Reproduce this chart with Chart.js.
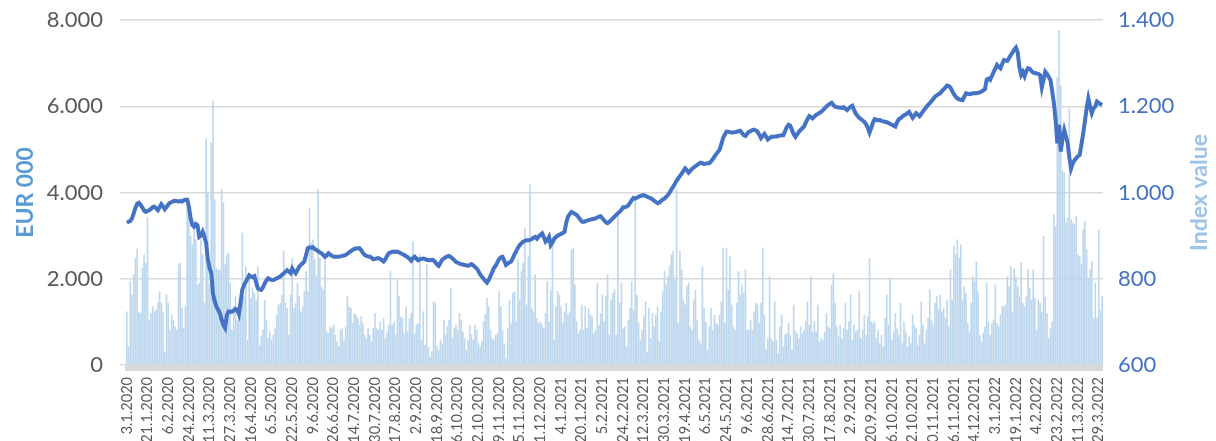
<!DOCTYPE html>
<html>
<head>
<meta charset="utf-8">
<script src="https://cdn.jsdelivr.net/npm/chart.js@4.4.1/dist/chart.umd.min.js"></script>
<style>
html,body{margin:0;padding:0;background:#fff;overflow:hidden;}
#wrap{width:1216px;height:441px;position:relative;}
</style>
</head>
<body>
<div id="wrap"><canvas id="c"></canvas></div>
<script>
// Tick labels: every 12th trading day
const tickLabels = ['3.1.2020','21.1.2020','6.2.2020','24.2.2020','11.3.2020','27.3.2020','16.4.2020','6.5.2020','22.5.2020','9.6.2020','26.6.2020','14.7.2020','30.7.2020','17.8.2020','2.9.2020','18.9.2020','6.10.2020','22.10.2020','9.11.2020','25.11.2020','11.12.2020','4.1.2021','20.1.2021','5.2.2021','24.2.2021','12.3.2021','30.3.2021','19.4.2021','6.5.2021','24.5.2021','9.6.2021','28.6.2021','14.7.2021','30.7.2021','17.8.2021','2.9.2021','20.9.2021','6.10.2021','22.10.2021','10.11.2021','26.11.2021','14.12.2021','3.1.2022','19.1.2022','4.2.2022','23.2.2022','11.3.2022','29.3.2022'];

// Daily turnover, EUR 000 (left axis)
const turnover = [
1243,427,1942,1631,2097,2485,2695,1243,1204,2252,2563,2369,3417,1049,1204,1359,1243,1282,1452,1709,
1437,1243,311,1631,1437,816,1165,1049,893,816,2330,2369,1320,854,1359,3884,3845,2990,2796,3223,
2913,1864,1903,2913,2563,1437,5243,4000,1864,5165,6136,3845,2252,2214,2214,4078,3767,2330,2563,2602,
1903,816,1359,1592,1049,1204,1437,3068,1592,2291,
583,2058,1553,1786,1670,1515,2291,466,660,816,1515,1049,621,777,583,699,854,1165,1398,1437,
1631,2641,1437,1320,699,1631,2485,1320,1437,1903,1592,1243,1359,1709,2175,1709,3650,2835,2913,2447,
2058,4078,2485,1825,1748,2485,777,738,893,854,932,699,544,427,816,854,583,893,1592,1359,
1320,971,1204,1165,1087,932,1126,971,699,621,854,699,544,854,
1204,854,816,1010,816,1087,621,777,932,2175,932,1010,699,2019,1592,1126,1087,738,1359,777,
1087,1204,2874,738,932,971,2563,583,1243,466,2330,427,194,311,1476,1437,427,350,583,505,
1049,699,893,1049,1786,621,854,932,816,1204,1049,777,621,350,583,932,699,583,932,816,
505,427,544,1010,1165,1553,1359,816,621,583,699,738,1709,
1359,816,505,155,854,1515,971,1670,1709,1010,2447,1515,2175,2369,3184,1398,2524,4194,1320,1243,
2097,1087,971,1010,932,854,1204,1942,1010,1748,2990,583,1359,1709,1631,1359,971,1243,1437,1165,
1243,2680,2718,1864,1010,738,816,1398,816,1359,854,1320,
1165,1126,738,816,1903,932,1204,1631,1010,1592,2097,699,1515,1670,1748,699,3573,1437,1903,854,
893,427,1049,1320,1942,1282,3845,1631,971,583,816,1126,1476,311,1320,621,1204,893,1165,1359,
544,1243,1709,2175,1864,2058,2291,2563,2641,1981,4078,971,2641,2214,1515,1398,1825,1903,893,816,
1515,1748,1049,583,505,2291,1320,1010,350,893,1320,816,1165,971,932,1165,1476,2718,971,2718,
1748,2524,1398,893,816,1437,2175,1631,1864,1670,2214,816,
816,1049,816,1243,1437,1398,971,1437,2718,1165,350,621,2058,621,544,1476,583,272,893,1165,
427,699,738,971,699,350,1398,777,738,621,893,738,816,1010,1476,932,2058,777,1010,777,
1398,544,621,583,777,1204,893,854,1864,2136,1437,893,660,932,621,854,1437,816,1010,1631,
583,932,777,816,1709,621,816,1165,699,1126,2485,1010,971,
1010,621,816,505,699,427,1087,1631,932,2019,583,777,1204,854,699,1437,505,1010,777,427,
660,505,1165,932,854,466,699,1476,932,505,816,1087,1748,1049,932,1437,1592,1282,1631,1243,
1320,1087,1515,893,2214,1515,2757,2563,2913,2485,2796,1515,1825,1670,971,777,1437,2058,1942,2408,
1709,699,544,738,893,1903,1010,699,971,1049,1864,971,
893,1165,1359,1359,1398,2058,1825,2291,1243,2252,2058,1825,1592,2369,1437,1359,1592,2214,1786,1515,
2214,1553,816,1515,1437,1243,2990,1592,1204,621,854,1010,3495,3223,6680,7767,6485,4505,4466,3301,
3417,5942,3379,3301,3262,3456,2563,2524,2330,3146,3340,2680,2019,2214,2408,1087,1903,1087,3146,1282,
1592
];

// Daily index value (right axis)
const indexValues = [
930,932,934,940,952,965,974,976,971,965,958,955,
957,959,962,966,967,963,959,966,973,968,961,966,
972,976,978,980,981,980,979,980,979,982,983,983,
968,940,925,921,927,924,897,900,909,898,882,845,
825,813,765,748,735,728,720,705,693,686,715,724,
723,724,726,730,728,718,745,775,785,793,800,808,
805,804,806,792,778,775,774,780,789,796,801,799,
797,797,799,801,803,805,809,812,816,820,817,813,
824,818,813,820,828,832,836,840,855,871,873,872,
873,869,867,864,861,859,855,851,854,859,856,853,
851,851,851,851,852,853,854,855,858,861,864,867,
869,870,871,871,866,860,855,853,852,851,849,845,
846,847,848,846,843,840,845,853,859,861,862,863,
862,863,861,859,857,855,852,850,846,842,848,851,
847,843,845,846,847,846,844,843,843,844,843,838,
833,830,837,844,847,850,852,853,850,847,843,839,
837,835,834,833,832,831,830,832,834,831,827,824,
818,810,805,800,795,791,797,806,815,825,830,838,
845,850,851,842,832,835,838,840,848,857,864,872,
878,882,886,888,889,889,890,892,895,897,893,898,
902,905,896,886,890,897,878,884,892,897,900,902,
904,906,909,930,944,950,955,953,950,948,943,938,
933,932,933,935,936,937,938,939,940,942,944,945,
940,935,931,929,932,936,940,944,948,952,955,960,
966,966,967,970,976,982,987,986,988,990,992,993,
994,992,990,988,987,984,981,978,975,977,980,984,
986,990,994,1000,1007,1013,1020,1027,1033,1038,1044,1050,
1056,1052,1046,1050,1055,1058,1061,1064,1067,1069,1068,1066,
1067,1068,1068,1072,1077,1083,1089,1094,1099,1112,1126,1134,
1141,1141,1140,1139,1139,1140,1141,1142,1143,1138,1133,1131,
1136,1141,1142,1145,1146,1144,1141,1134,1126,1131,1136,1130,
1123,1126,1129,1129,1130,1130,1131,1132,1133,1133,1142,1152,
1157,1155,1145,1135,1129,1135,1141,1145,1149,1153,1162,1170,
1177,1175,1172,1176,1180,1182,1185,1187,1191,1195,1199,1203,
1206,1208,1203,1199,1198,1197,1197,1196,1198,1194,1191,1195,
1199,1201,1192,1183,1178,1173,1170,1167,1164,1158,1150,1139,
1150,1162,1170,1169,1167,1168,1166,1165,1164,1163,1161,1159,
1157,1155,1153,1163,1170,1172,1176,1179,1181,1184,1187,1180,
1173,1178,1184,1181,1177,1182,1188,1193,1198,1203,1207,1212,
1217,1222,1225,1228,1230,1235,1239,1243,1248,1247,1243,1235,
1228,1222,1218,1216,1215,1214,1222,1230,1229,1228,1229,1230,
1230,1230,1231,1232,1234,1237,1240,1262,1264,1261,1270,1279,
1287,1296,1292,1288,1298,1307,1306,1305,1312,1319,1325,1331,
1336,1325,1290,1273,1280,1270,1282,1288,1287,1282,1278,1277,
1276,1275,1272,1244,1262,1280,1275,1268,1261,1235,1207,1168,
1114,1157,1095,1125,1145,1130,1114,1080,1056,1068,1075,1080,
1084,1087,1112,1137,1165,1195,1218,1200,1184,1195,1199,1211,
1208,1205,1203
];

const labelStep = 12;
const categories = turnover.map((_, i) => (i % labelStep === 0 && tickLabels[i / labelStep]) ? tickLabels[i / labelStep] : '');

function fmtThousands(v) {
  return String(v).replace(/\B(?=(\d{3})+(?!\d))/g, '.');
}

const FONT = 'Lato, "Open Sans", "Liberation Sans", sans-serif';

const decor = {
  id: 'decor',
  beforeDatasetsDraw(chart) {
    const {ctx, chartArea: a} = chart;
    ctx.save();
    ctx.fillStyle = '#D9D9D9';
    ctx.fillRect(a.left - 1, a.bottom, a.right - a.left + 1, 6);
    ctx.restore();
  },
  afterDraw(chart) {
    const {ctx, chartArea: a} = chart;
    ctx.save();
    ctx.translate(1200, (a.top + a.bottom) / 2);
    ctx.rotate(-Math.PI / 2);
    ctx.font = 'bold 23px ' + FONT;
    ctx.fillStyle = '#9DC3E6';
    ctx.textAlign = 'center';
    ctx.textBaseline = 'middle';
    ctx.fillText('Index value', 0, 0);
    ctx.restore();
  }
};

function fixPad(s) { s.paddingTop = 0; s.paddingBottom = 0; }

new Chart(document.getElementById('c'), {
  data: {
    labels: categories,
    datasets: [
      {
        type: 'line',
        label: 'Index value',
        data: indexValues,
        yAxisID: 'y1',
        borderColor: '#4472C4',
        borderWidth: 4,
        pointRadius: 0,
        tension: 0,
        order: 0
      },
      {
        type: 'bar',
        label: 'EUR 000',
        data: turnover,
        yAxisID: 'y',
        backgroundColor: '#BDD7EE',
        borderWidth: 0,
        barPercentage: 0.95,
        categoryPercentage: 1.0,
        order: 1
      }
    ]
  },
  options: {
    responsive: true,
    maintainAspectRatio: false,
    animation: false,
    devicePixelRatio: 1,
    layout: { padding: { top: 20, left: 0, right: 0, bottom: 0 } },
    plugins: { legend: { display: false }, tooltip: { enabled: false } },
    scales: {
      x: {
        offset: true,
        grid: { display: false, drawTicks: false },
        border: { display: false },
        ticks: {
          autoSkip: false,
          minRotation: 90,
          maxRotation: 90,
          padding: 12,
          color: '#595959',
          font: { family: FONT, size: 14.5 }
        },
        afterFit(s) { s.height = 76; s.paddingTop = 0; }
      },
      y: {
        position: 'left',
        min: 0,
        max: 8000,
        ticks: {
          stepSize: 2000,
          padding: 17,
          color: '#595959',
          font: { family: FONT, size: 22 },
          callback: v => fmtThousands(v)
        },
        grid: { color: '#D9D9D9', lineWidth: 1.5, drawTicks: true, tickLength: 6 },
        border: { display: false },
        title: {
          display: true,
          text: 'EUR 000',
          color: '#5B9BD5',
          font: { family: FONT, size: 23, weight: 'bold' },
          padding: { top: 12, bottom: 0 }
        },
        afterFit(s) { s.width = 126; fixPad(s); }
      },
      y1: {
        position: 'right',
        min: 600,
        max: 1400,
        ticks: {
          stepSize: 200,
          padding: 15,
          color: '#4472C4',
          font: { family: FONT, size: 22 },
          callback: v => fmtThousands(v)
        },
        grid: { drawOnChartArea: false, drawTicks: false },
        border: { display: false },
        afterFit(s) { s.width = 113; fixPad(s); }
      }
    }
  },
  plugins: [decor]
});
</script>
</body>
</html>
